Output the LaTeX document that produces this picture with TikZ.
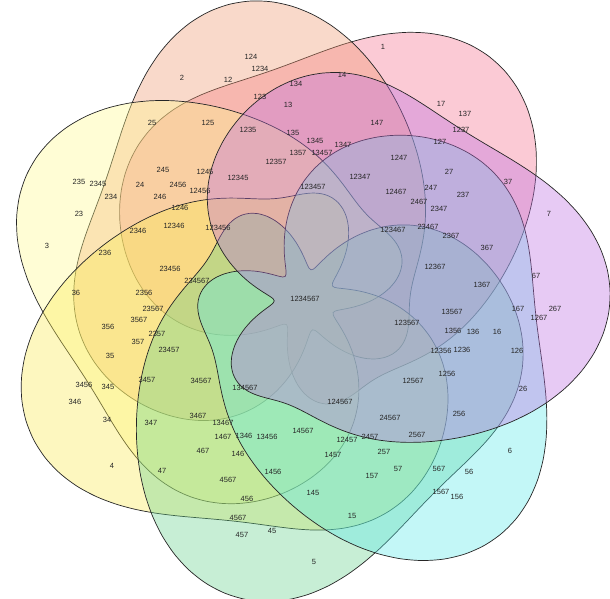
\documentclass[tikz,border=0pt]{standalone}
\usepackage{fontspec}
\setmainfont{Liberation Sans}
\definecolor{cA}{RGB}{245,110,140}
\definecolor{cB}{RGB}{240,150,110}
\definecolor{cC}{RGB}{255,250,140}
\definecolor{cD}{RGB}{250,235,80}
\definecolor{cE}{RGB}{100,210,140}
\definecolor{cF}{RGB}{90,235,235}
\definecolor{cG}{RGB}{190,110,225}
\tikzset{
  setline/.style={draw=black!85, line width=0.7pt, fill opacity=0.36},
  lab/.style={inner sep=0.5pt, font=\fontsize{7.5}{8}\selectfont, text=black!85}
}
\begin{document}
\begin{tikzpicture}[x=1pt,y=-1pt]
	\useasboundingbox (0,0) rectangle (610,599);
	\fill [white] (0,0) rectangle (610,599);

	% the seven sets, one rotated curve each
	\foreach \k/\c in {0/cA,1/cB,2/cC,3/cD,4/cE,5/cF,6/cG} {
		\pgfmathsetmacro{\phi}{-73-51.43*\k}
		\draw [setline, fill=\c] plot [smooth cycle, samples=90, domain=0:356]
			({305+(168+110*cos(\x)+30*sin(3*\x)+8*sin(5*\x))*cos(\x+\phi)},
			 {300+(168+110*cos(\x)+30*sin(3*\x)+8*sin(5*\x))*sin(\x+\phi)});
	}

	% region labels
	\foreach \x/\y/\t in {
		383/47/1, 182/78/2, 47/246/3, 112/466/4, 314/562/5, 510/451/6, 549/214/7,
		228/80/12, 251/57/124, 260/69/1234, 260/97/123, 296/84/134, 342/75/14,
		288/105/13, 208/123/125, 248/130/1235, 293/133/135, 315/141/1345,
		298/153/1357, 322/153/13457, 343/145/1347, 377/123/147, 441/104/17,
		465/114/137, 461/130/1237, 440/142/127, 399/158/1247, 276/162/12357,
		313/187/123457, 360/177/12347, 152/123/25, 163/170/245, 205/172/1245,
		238/178/12345, 79/182/235, 98/184/2345, 140/185/24, 178/185/2456,
		111/197/234, 160/197/246, 200/191/12456, 180/208/1246, 79/214/23,
		138/231/2346, 174/226/12346, 218/228/123456, 449/172/27, 463/195/237,
		396/192/12467, 431/188/247, 419/202/2467, 439/209/2347, 508/182/37,
		393/230/123467, 428/227/23467, 451/236/2367, 105/253/236, 170/269/23456,
		487/248/367, 76/293/36, 144/293/2356, 197/281/234567, 305/299/1234567,
		435/267/12367, 482/285/1367, 536/276/67, 153/309/23567, 139/320/3567,
		108/327/356, 138/342/357, 157/334/2357, 169/350/23457, 407/323/123567,
		452/312/13567, 518/309/167, 555/309/267, 539/318/1267, 453/331/1356,
		473/332/136, 497/332/16, 441/351/12356, 462/350/1236, 517/351/126,
		110/356/35, 84/385/3456, 108/387/345, 75/402/346, 147/380/3457,
		201/381/34567, 245/388/134567, 413/381/12567, 447/374/1256, 523/389/26,
		107/420/34, 151/423/347, 198/416/3467, 340/402/124567, 223/423/13467,
		390/418/24567, 459/414/256, 223/437/1467, 244/436/1346, 267/437/13456,
		303/431/14567, 347/440/12457, 370/437/2457, 417/435/2567, 203/451/467,
		238/454/146, 333/455/1457, 384/452/257, 398/469/57, 439/469/567,
		469/472/56, 372/476/157, 273/472/1456, 228/480/4567, 162/471/47,
		247/499/456, 313/493/145, 352/516/15, 441/492/1567, 457/497/156,
		238/518/4567, 242/535/457, 272/531/45} {
		\node [lab] (r\t) at (\x,\y) {\t};
	}
\end{tikzpicture}
\end{document}
